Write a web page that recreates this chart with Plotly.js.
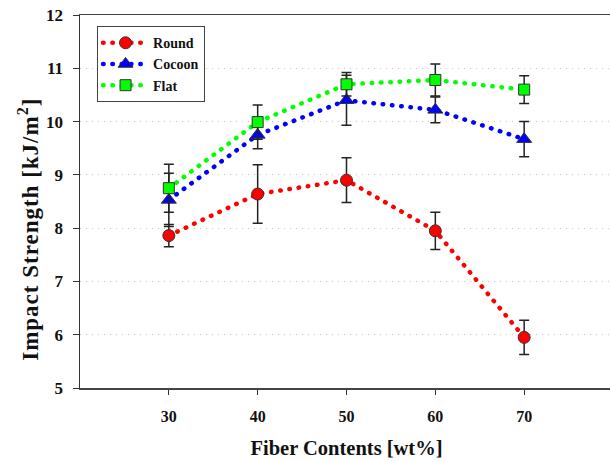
<!DOCTYPE html>
<html>
<head>
<meta charset="utf-8">
<script src="https://cdn.plot.ly/plotly-3.0.1.min.js"></script>
<style>
html,body{margin:0;padding:0;overflow:hidden;background:#fff;}
#chart{width:616px;height:461px;}
</style>
</head>
<body>
<div id="chart"></div>
<script>
const fiber = [30, 40, 50, 60, 70];
const roundVals = [7.86, 8.64, 8.90, 7.95, 5.95];
const roundErr = [0.21, 0.55, 0.42, 0.35, 0.32];
const cocoonVals = [8.53, 9.75, 10.40, 10.22, 9.67];
const cocoonErr = [0.50, 0.26, 0.47, 0.24, 0.33];
const flatVals = [8.75, 9.99, 10.70, 10.78, 10.60];
const flatErr = [0.45, 0.32, 0.22, 0.30, 0.26];
const xTicks = [30, 40, 50, 60, 70];
const yTitle = 'Impact Strength [kJ/m<sup>2</sup>]';
const xTitle = 'Fiber Contents [wt%]';

const fontFam = '"Liberation Serif", "Times New Roman", serif';

function series(name, y, err, color, symbol, size) {
  return {
    x: fiber, y: y, name: name, type: 'scatter', mode: 'lines+markers',
    line: {color: color, width: 4.5, dash: '0.5px,8.8px'},
    marker: {color: color, symbol: symbol, size: size, line: {color: '#333', width: 1}},
    error_y: {type: 'data', array: err, visible: true, color: '#222', thickness: 1.5, width: 5}
  };
}

const data = [
  series('Round', roundVals, roundErr, '#ff0000', 'circle', 12),
  series('Cocoon', cocoonVals, cocoonErr, '#0000ff', 'triangle-up', 13),
  series('Flat', flatVals, flatErr, '#00ff00', 'square', 11)
];

const layout = {
  width: 616, height: 461,
  margin: {l: 80, r: 3, t: 15, b: 73},
  paper_bgcolor: '#fff', plot_bgcolor: '#fff',
  showlegend: true,
  legend: {
    x: 0.032, y: 0.97, xanchor: 'left', yanchor: 'top',
    bordercolor: '#444', borderwidth: 1, bgcolor: '#fff',
    font: {family: fontFam, size: 14, color: '#111', weight: 'bold'},
    tracegroupgap: 0, itemwidth: 45
  },
  xaxis: {
    range: [20, 80], tickvals: xTicks, ticktext: xTicks.map(String),
    showline: true, linecolor: '#444', linewidth: 1.5, mirror: true,
    ticks: 'outside', ticklen: 5, tickcolor: '#333', tickwidth: 1,
    showgrid: false, zeroline: false,
    ticklabelstandoff: 8,
    tickfont: {family: fontFam, size: 16, color: '#111', weight: 'bold'},
    title: {text: xTitle, standoff: 17,
      font: {family: fontFam, size: 20.5, color: '#111', weight: 'bold'}}
  },
  yaxis: {
    range: [5, 12], dtick: 1, tick0: 5,
    showline: true, linecolor: '#333', linewidth: 1.5, mirror: false,
    ticks: 'outside', ticklen: 6, tickcolor: '#333', tickwidth: 1,
    showgrid: true, gridcolor: '#c8c8c8', griddash: '1px,5px', gridwidth: 1,
    zeroline: false,
    ticklabelstandoff: 6,
    tickfont: {family: fontFam, size: 17, color: '#111', weight: 'bold'}
  },
  annotations: [{
    text: yTitle, textangle: -90, showarrow: false,
    xref: 'paper', yref: 'paper', x: -0.096, y: 0.425,
    xanchor: 'center', yanchor: 'middle',
    font: {family: fontFam, size: 23, color: '#111', weight: 'bold'}
  }]
};

Plotly.newPlot('chart', data, layout, {displayModeBar: false, staticPlot: true}).then(function(){
  document.querySelectorAll('.scatterlayer .js-line, .legend .js-line').forEach(function(p){
    p.style.strokeLinecap = 'round';
  });
  document.querySelectorAll('.annotation-text').forEach(function(t){
    t.style.letterSpacing = '1px';
  });
});
</script>
</body>
</html>
